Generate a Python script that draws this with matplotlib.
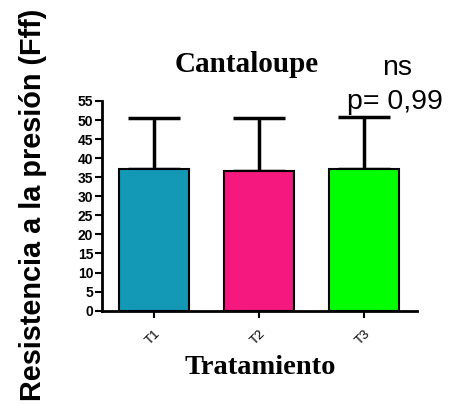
import matplotlib
matplotlib.use("Agg")
import matplotlib.pyplot as plt

categories = ["T1", "T2", "T3"]
means = [37.1, 36.7, 37.2]
errors = [13.4, 13.8, 13.6]
colors = ["#1399b5", "#f5187f", "#00ff00"]
yticks = list(range(0, 56, 5))

fig = plt.figure(figsize=(4.53, 4.04), dpi=100)
ax = fig.add_axes([0.2245, 0.231, 0.696, 0.519])

x = list(range(len(categories)))
ax.bar(x, means, width=0.667, color=colors, edgecolor="black", linewidth=1.5, zorder=2)
ax.errorbar(x, means, yerr=[[0]*3, errors], fmt="none", ecolor="black",
            elinewidth=2.5, capsize=18.5, capthick=2.5, zorder=1)

ax.set_xlim(-0.5, 2.5)
ax.set_ylim(0, 55)
ax.set_yticks(yticks)
ax.set_yticklabels([str(v) for v in yticks], fontsize=10, fontweight="bold",
                   family="Liberation Sans")
ax.set_xticks(x)
ax.set_xticklabels(categories, rotation=45, ha="right", rotation_mode="anchor",
                   fontsize=9.5, family="Liberation Sans")
for s in ["top", "right"]:
    ax.spines[s].set_visible(False)
for s in ["left", "bottom"]:
    ax.spines[s].set_linewidth(2)
ax.tick_params(axis="y", direction="out", length=5, width=1.5, pad=1)
ax.tick_params(axis="x", direction="out", length=5, width=1.5, pad=7)

fig.text(260/453, 1-368/404, "Tratamiento", fontsize=20.5, fontweight="bold",
         family="Liberation Serif", ha="center", va="center")
fig.text(0.073, 1-205/404, "Resistencia a la presión (Fff)", rotation=90,
         fontsize=20.8, fontweight="bold", family="Liberation Sans",
         ha="center", va="center")
fig.text(246.7/453, 1-65/404, "Cantaloupe", fontsize=21, fontweight="bold",
         family="Liberation Serif", ha="center", va="center")
fig.text(397/453, 1-68/404, "ns", fontsize=20.5, family="Liberation Sans",
         ha="center", va="center")
fig.text(395/453, 1-102/404, "p= 0,99", fontsize=20.5, family="Liberation Sans",
         ha="center", va="center")

fig.savefig("out.png", dpi=100)
